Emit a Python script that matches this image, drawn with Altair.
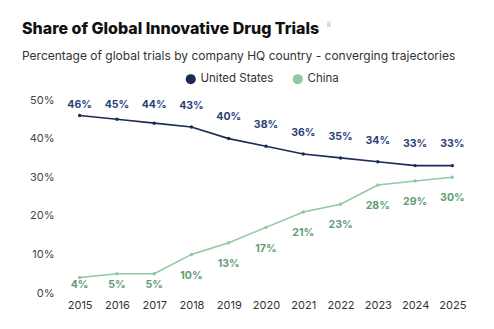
import altair as alt
import pandas as pd

years = list(range(2015, 2026))
us_share = [46, 45, 44, 43, 40, 38, 36, 35, 34, 33, 33]
cn_share = [4, 5, 5, 10, 13, 17, 21, 23, 28, 29, 30]
series = ["United States", "China"]
line_colors = ["#1b2a56", "#8fcaa0"]
label_colors = ["#2b3f78", "#5f9c76"]
y_ticks = [0, 10, 20, 30, 40, 50]
title_text = "Share of Global Innovative Drug Trials"
subtitle_text = "Percentage of global trials by company HQ country - converging trajectories"
note_text = "ii"

rows = []
for y, u, c in zip(years, us_share, cn_share):
    rows.append({"year": y, "country": series[0], "value": u})
    rows.append({"year": y, "country": series[1], "value": c})
df = pd.DataFrame(rows)

FONT = "Inter"
x_scale = alt.Scale(type="point", padding=0.5)
y_scale = alt.Scale(domain=[0, 50])

x_axis = alt.Axis(labelAngle=0, title=None, domain=False, ticks=False,
                  labelPadding=6, labelFontSize=11, labelColor="#333",
                  labelFont=FONT)
y_axis = alt.Axis(values=y_ticks, title=None,
                  labelExpr="datum.value + '%'", grid=False,
                  domain=False, ticks=False, labelPadding=7,
                  labelFontSize=11, labelColor="#444", labelFont=FONT,
                  labelOverlap=False)

lines = alt.Chart(df).mark_line(
    strokeWidth=1.6,
    point=alt.OverlayMarkDef(size=12, filled=True),
).encode(
    x=alt.X("year:O", scale=x_scale, axis=x_axis),
    y=alt.Y("value:Q", scale=y_scale, axis=y_axis),
    color=alt.Color("country:N",
                    scale=alt.Scale(domain=series, range=line_colors),
                    legend=alt.Legend(orient="none", legendX=124, legendY=-27,
                                      direction="horizontal", title=None,
                                      symbolType="circle", symbolSize=100,
                                      symbolStrokeWidth=0, columnPadding=18,
                                      labelFontSize=11.5, labelColor="#333",
                                      labelFont=FONT)),
)

labels = alt.Chart(df).transform_calculate(
    pos="datum.country == 'United States' ? min(datum.value + 5.5, 48.7) : max(datum.value - 5.5, 2)",
    lbl="datum.value + '%'",
).mark_text(font=FONT, fontSize=10.5, fontWeight="bold", baseline="middle").encode(
    x=alt.X("year:O", scale=x_scale, axis=x_axis),
    y=alt.Y("pos:Q", scale=y_scale, axis=y_axis),
    text="lbl:N",
    color=alt.Color("country:N",
                    scale=alt.Scale(domain=series, range=label_colors),
                    legend=None),
)

title = alt.Chart(pd.DataFrame({"t": [title_text]})).mark_text(
    font=FONT, fontSize=16, fontWeight=800, color="#111", align="left",
    baseline="alphabetic"
).encode(x=alt.value(-39), y=alt.value(-66), text="t:N")

subtitle = alt.Chart(pd.DataFrame({"t": [subtitle_text]})).mark_text(
    font=FONT, fontSize=12, color="#333", align="left", baseline="alphabetic"
).encode(x=alt.value(-39), y=alt.value(-40), text="t:N")

sup = alt.Chart(pd.DataFrame({"t": [note_text]})).mark_text(
    font=FONT, fontSize=7, color="#999", align="left", baseline="alphabetic"
).encode(x=alt.value(266), y=alt.value(-73), text="t:N")

chart = alt.layer(lines, labels, title, subtitle, sup).resolve_scale(
    color="independent"
).properties(
    width=410,
    height=193,
    autosize="none",
    padding={"left": 61, "top": 100, "right": 23, "bottom": 36},
).configure_view(stroke=None)

chart.save("out.html", embed_options={"renderer": "svg", "actions": False})
